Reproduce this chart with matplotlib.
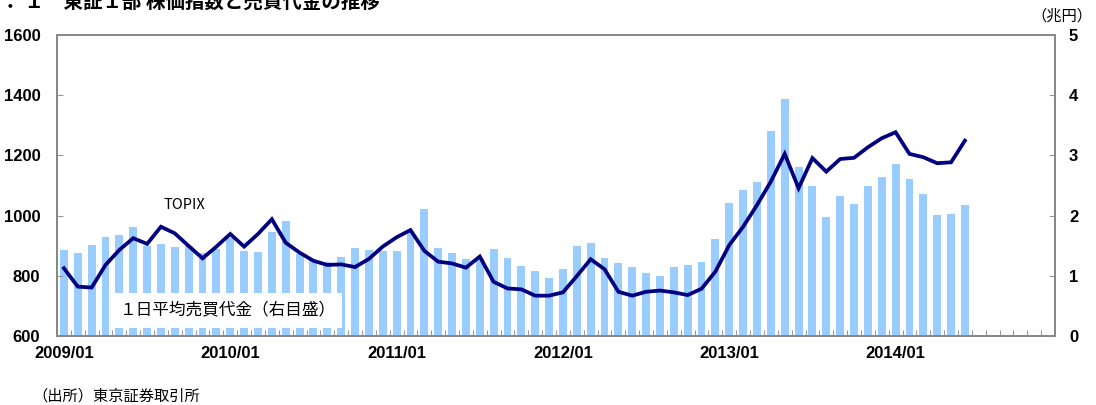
import matplotlib
matplotlib.use("Agg")
import matplotlib.pyplot as plt
from matplotlib.patches import Rectangle
import numpy as np

# ---- data ----
months = [f"{y}/{m:02d}" for y in range(2009, 2015) for m in range(1, 13)]  # axis categories 2009/01-2014/12
topix = [825, 764, 761, 836, 886, 925, 906, 963, 941, 899, 858, 897,
         939, 897, 939, 988, 910, 877, 850, 836, 838, 829, 856, 897,
         928, 952, 883, 847, 841, 827, 864, 780, 758, 755, 734, 734,
         745, 799, 855, 822, 747, 734, 747, 751, 745, 736, 757, 814,
         902, 963, 1035, 1113, 1205, 1091, 1191, 1146, 1188, 1192, 1227, 1257,
         1277, 1205, 1194, 1174, 1177, 1249]
turnover = [1.43, 1.38, 1.51, 1.65, 1.67, 1.81, 1.50, 1.52, 1.48, 1.50, 1.38, 1.44,
            1.62, 1.42, 1.40, 1.72, 1.91, 1.37, 1.26, 1.23, 1.32, 1.46, 1.43, 1.42,
            1.42, 1.73, 2.11, 1.46, 1.38, 1.28, 1.30, 1.45, 1.30, 1.17, 1.08, 0.96,
            1.11, 1.50, 1.55, 1.29, 1.21, 1.15, 1.04, 0.99, 1.15, 1.18, 1.23, 1.61,
            2.21, 2.43, 2.55, 3.41, 3.94, 2.81, 2.50, 1.98, 2.33, 2.19, 2.50, 2.64,
            2.86, 2.61, 2.36, 2.01, 2.03, 2.18]
xlabels = ["2009/01", "2010/01", "2011/01", "2012/01", "2013/01", "2014/01"]
left_ticks = [600, 800, 1000, 1200, 1400, 1600]
right_ticks = [0, 1, 2, 3, 4, 5]

title = "．１　東証１部 株価指数と売買代金の推移"
unit = "（兆円）"
source = "（出所）東京証券取引所"
bar_label = "１日平均売買代金（右目盛）"
line_label = "TOPIX"

CJK = ["Noto Sans CJK JP", "DejaVu Sans"]
NUM = ["Liberation Sans Narrow", "Liberation Sans", "DejaVu Sans"]
plt.rcParams["font.family"] = CJK

fig = plt.figure(figsize=(10.96, 4.05), dpi=100)
ax = fig.add_axes([57/1096, 69/405, 998/1096, 301/405])
ax2 = ax.twinx()
ax.set_zorder(ax2.get_zorder() + 1)
ax.patch.set_visible(False)

n = len(months)
xb = np.arange(len(turnover))
ax2.bar(xb, turnover, width=0.57, color="#99CCFF", zorder=2)
ax.plot(np.arange(len(topix)), topix, color="#000080", lw=2.7, zorder=5,
        solid_joinstyle="miter")

ax.set_xlim(-0.5, n - 0.5)
ax.set_ylim(600, 1600)
ax2.set_ylim(0, 5)

# x ticks: labels at January category centres, minor ticks at category boundaries
ax.set_xticks([months.index(l) for l in xlabels])
ax.set_xticklabels(xlabels)
ax.set_xticks(np.arange(0.5, n - 0.5, 1), minor=True)
ax.tick_params(axis="x", which="major", length=0, pad=7)
ax.tick_params(axis="x", which="minor", direction="in", length=4, width=0.8, color="#999999")
ax2.tick_params(axis="x", which="both", length=0)

ax.set_yticks(left_ticks)
ax2.set_yticks(right_ticks)
ax.tick_params(axis="y", direction="in", length=4, width=0.8, color="#999999", pad=12)
ax2.tick_params(axis="y", direction="in", length=4, width=0.8, color="#999999", pad=10)

for lab in ax.get_xticklabels() + ax.get_yticklabels() + ax2.get_yticklabels():
    lab.set_fontfamily(NUM)
    lab.set_fontweight("bold")
    lab.set_fontsize(12)

for a in (ax, ax2):
    for s in a.spines.values():
        s.set_color("#888888")
        s.set_linewidth(1.4)

# label box over the bars
ax.add_patch(Rectangle((3.55, 627), 16.5, 116, facecolor="white", edgecolor="none", zorder=3))
ax.text(11.8, 686, bar_label, ha="center", va="center", fontsize=12, zorder=4)
ax.text(8.7, 1035, line_label, ha="center", va="center", fontsize=10.5, zorder=4)

fig.text(5/1096, 1 - 8/405, title, ha="left", va="baseline", fontsize=14, fontweight="bold")
fig.text(1062/1096, 1 - 16/405, unit, ha="center", va="center", fontsize=11)
fig.text(32/1096, 1 - 396/405, source, ha="left", va="center", fontsize=11)

fig.savefig("out.png", dpi=100)
